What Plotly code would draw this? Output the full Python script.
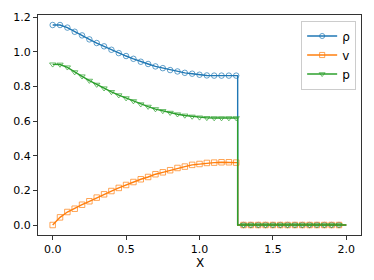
import plotly.graph_objects as go

# positions along X where the solution is sampled (markers every 0.05)
x_left = [0.0, 0.05, 0.1, 0.15, 0.2, 0.25, 0.3, 0.35, 0.4, 0.45, 0.5, 0.55, 0.6,
          0.65, 0.7, 0.75, 0.8, 0.85, 0.9, 0.95, 1.0, 1.05, 1.1, 1.15, 1.2, 1.25]
x_right = [1.3, 1.35, 1.4, 1.45, 1.5, 1.55, 1.6, 1.65, 1.7, 1.75, 1.8, 1.85, 1.9, 1.95]
x_shock = 1.26
x_end = 2.0

rho_left = [1.154, 1.154, 1.139, 1.115, 1.094, 1.071, 1.050, 1.031, 1.011, 0.992,
            0.975, 0.959, 0.942, 0.929, 0.915, 0.905, 0.894, 0.886, 0.878, 0.873,
            0.867, 0.863, 0.862, 0.862, 0.862, 0.862]
v_left = [0.0, 0.044, 0.075, 0.094, 0.117, 0.137, 0.158, 0.177, 0.196, 0.214,
          0.231, 0.248, 0.264, 0.277, 0.293, 0.304, 0.316, 0.329, 0.337, 0.347,
          0.352, 0.358, 0.360, 0.362, 0.362, 0.360]
p_left = [0.927, 0.926, 0.910, 0.882, 0.858, 0.833, 0.810, 0.789, 0.768, 0.749,
          0.732, 0.715, 0.697, 0.683, 0.669, 0.658, 0.648, 0.639, 0.632, 0.626,
          0.621, 0.618, 0.617, 0.617, 0.617, 0.617]
right_value = [0.0] * len(x_right)

names = ["ρ", "v", "p"]
colors = ["#1f77b4", "#ff7f0e", "#2ca02c"]
symbols = ["circle-open", "square-open", "triangle-down-open"]
series = [rho_left, v_left, p_left]

MS = 5.5
fig = go.Figure()
for name, col, sym, left in zip(names, colors, symbols, series):
    xs = x_left + [x_shock, x_shock] + x_right + [x_end]
    ys = left + [left[-1], 0.0] + right_value + [0.0]
    sizes = [MS] * len(x_left) + [0, 0] + [MS] * len(x_right) + [0]
    fig.add_trace(go.Scatter(
        x=xs, y=ys, name=name, mode="lines+markers",
        line=dict(color=col, width=1.4),
        marker=dict(symbol=sym, size=sizes, color=col, line=dict(width=1, color=col)),
    ))

all_y = rho_left + v_left + p_left + right_value
ymin, ymax = min(all_y), max(all_y)
pad = 0.05 * (ymax - ymin)

axis_common = dict(
    showline=True, mirror=True, linecolor="#333", linewidth=1,
    ticks="outside", ticklen=4, tickwidth=1, tickcolor="#333",
    showgrid=False, zeroline=False, automargin=False,
    tickfont=dict(family="DejaVu Sans", size=11, color="black"),
)

fig.update_layout(
    width=374, height=280,
    margin=dict(l=38, r=13, t=15, b=45),
    paper_bgcolor="white", plot_bgcolor="white",
    font=dict(family="DejaVu Sans", size=11, color="black"),
    xaxis=dict(range=[-0.1, 2.1], tickvals=[0.0, 0.5, 1.0, 1.5, 2.0],
               tickformat=".1f", **axis_common),
    yaxis=dict(range=[ymin - pad, ymax + pad],
               tickvals=[0.0, 0.2, 0.4, 0.6, 0.8, 1.0, 1.2], tickformat=".1f",
               **axis_common),
    legend=dict(x=0.985, y=0.975, xanchor="right", yanchor="top",
                bgcolor="white", bordercolor="#cccccc", borderwidth=1,
                font=dict(family="DejaVu Sans", size=12)),
    annotations=[dict(text="X", xref="paper", yref="paper", x=0.5, y=-0.125,
                      xanchor="center", yanchor="middle", showarrow=False,
                      font=dict(family="DejaVu Sans", size=12, color="black"))],
    showlegend=True,
)

fig.write_html("out.html", config={"displayModeBar": False},
               post_script="document.body.style.margin='0';document.body.style.padding='0';")
